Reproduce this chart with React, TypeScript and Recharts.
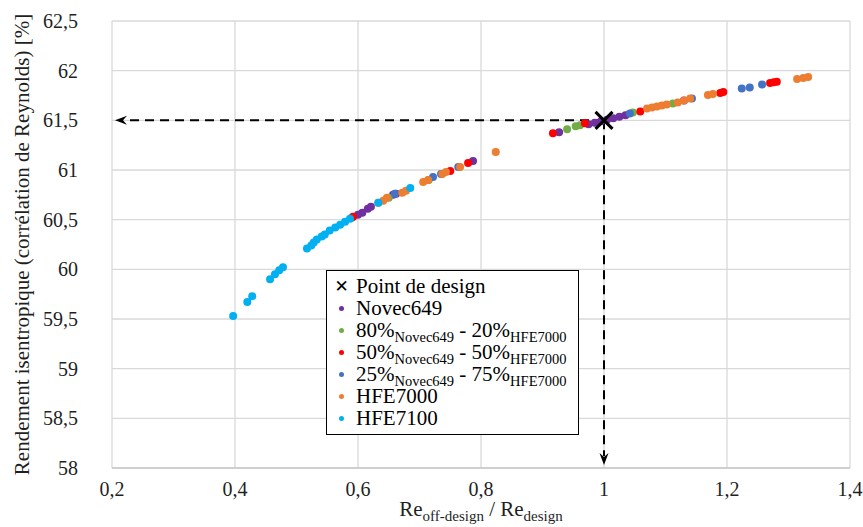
import React from "react";
import {
  CartesianGrid,
  ReferenceLine,
  Scatter,
  ScatterChart,
  XAxis,
  YAxis,
} from "recharts";

const FONT = "'Liberation Serif', Tinos, 'Times New Roman', 'DejaVu Serif', serif";
const TEXT = "#1f1f1f";

const xTicks = [0.2, 0.4, 0.6, 0.8, 1, 1.2, 1.4];
const yTicks = [58, 58.5, 59, 59.5, 60, 60.5, 61, 61.5, 62, 62.5];

const designPoint = [{ x: 1, y: 61.5 }];

const novec649 = [
  { x: 0.6, y: 60.55 },
  { x: 0.607, y: 60.57 },
  { x: 0.616, y: 60.61 },
  { x: 0.621, y: 60.63 },
  { x: 0.657, y: 60.75 },
  { x: 0.662, y: 60.76 },
  { x: 0.787, y: 61.09 },
  { x: 0.927, y: 61.38 },
  { x: 0.975, y: 61.46 },
  { x: 0.985, y: 61.475 },
  { x: 0.995, y: 61.49 },
  { x: 1.005, y: 61.505 },
  { x: 1.015, y: 61.52 },
  { x: 1.025, y: 61.535 },
  { x: 1.035, y: 61.55 },
  { x: 1.13, y: 61.7 },
];

const mix80_20 = [
  { x: 0.59, y: 60.52 },
  { x: 0.65, y: 60.72 },
  { x: 0.715, y: 60.9 },
  { x: 0.94, y: 61.41 },
  { x: 0.954, y: 61.44 },
  { x: 0.961, y: 61.45 },
  { x: 1.047, y: 61.58 },
  { x: 1.112, y: 61.67 },
];

const mix50_50 = [
  { x: 0.592, y: 60.53 },
  { x: 0.75, y: 60.99 },
  { x: 0.779, y: 61.07 },
  { x: 0.917, y: 61.37 },
  { x: 0.969, y: 61.47 },
  { x: 1.059, y: 61.59 },
  { x: 1.189, y: 61.775 },
  { x: 1.194, y: 61.785 },
  { x: 1.27, y: 61.876 },
  { x: 1.276, y: 61.883 },
  { x: 1.281, y: 61.888 },
];

const mix25_75 = [
  { x: 0.66, y: 60.76 },
  { x: 0.722, y: 60.93 },
  { x: 0.735, y: 60.96 },
  { x: 0.763, y: 61.03 },
  { x: 1.042, y: 61.57 },
  { x: 1.143, y: 61.72 },
  { x: 1.224, y: 61.82 },
  { x: 1.237, y: 61.83 },
  { x: 1.257, y: 61.86 },
];

const hfe7000 = [
  { x: 0.633, y: 60.67 },
  { x: 0.641, y: 60.69 },
  { x: 0.647, y: 60.72 },
  { x: 0.672, y: 60.77 },
  { x: 0.678, y: 60.79 },
  { x: 0.706, y: 60.88 },
  { x: 0.714, y: 60.9 },
  { x: 0.737, y: 60.96 },
  { x: 0.743, y: 60.98 },
  { x: 0.766, y: 61.03 },
  { x: 0.824, y: 61.18 },
  { x: 1.07, y: 61.62 },
  { x: 1.078, y: 61.63 },
  { x: 1.086, y: 61.64 },
  { x: 1.094, y: 61.65 },
  { x: 1.102, y: 61.66 },
  { x: 1.12, y: 61.68 },
  { x: 1.13, y: 61.7 },
  { x: 1.14, y: 61.72 },
  { x: 1.169, y: 61.755 },
  { x: 1.177, y: 61.765 },
  { x: 1.314, y: 61.916 },
  { x: 1.324, y: 61.926 },
  { x: 1.332, y: 61.936 },
];

const hfe7100 = [
  { x: 0.397, y: 59.53 },
  { x: 0.42, y: 59.67 },
  { x: 0.428, y: 59.73 },
  { x: 0.457, y: 59.9 },
  { x: 0.465, y: 59.95 },
  { x: 0.472, y: 59.99 },
  { x: 0.478, y: 60.02 },
  { x: 0.517, y: 60.21 },
  { x: 0.524, y: 60.24 },
  { x: 0.528, y: 60.27 },
  { x: 0.533, y: 60.3 },
  { x: 0.541, y: 60.33 },
  { x: 0.546, y: 60.35 },
  { x: 0.554, y: 60.39 },
  { x: 0.563, y: 60.42 },
  { x: 0.571, y: 60.45 },
  { x: 0.579, y: 60.48 },
  { x: 0.587, y: 60.51 },
  { x: 0.633, y: 60.67 },
  { x: 0.685, y: 60.82 },
];

const series = [
  { key: "novec", name: "Novec649", color: "#7030A0", data: novec649 },
  { key: "m80", name: ["80%", "Novec649", " - 20%", "HFE7000"], color: "#70AD47", data: mix80_20 },
  { key: "m50", name: ["50%", "Novec649", " - 50%", "HFE7000"], color: "#FF0000", data: mix50_50 },
  { key: "m25", name: ["25%", "Novec649", " - 75%", "HFE7000"], color: "#4472C4", data: mix25_75 },
  { key: "h7000", name: "HFE7000", color: "#ED7D31", data: hfe7000 },
  { key: "h7100", name: "HFE7100", color: "#00B0F0", data: hfe7100 },
];

const fmt = (v: number) => String(v).replace(".", ",");

const dot = (color: string) => (props: any) =>
  <circle cx={props.cx} cy={props.cy} r={4} fill={color} />;

const cross = (props: any) => {
  const s = 8.5;
  return (
    <g stroke="#000" strokeWidth={3}>
      <line x1={props.cx - s} y1={props.cy - s} x2={props.cx + s} y2={props.cy + s} />
      <line x1={props.cx - s} y1={props.cy + s} x2={props.cx + s} y2={props.cy - s} />
    </g>
  );
};

// dashed guide line with an arrow head at its second point
const arrowLine = (props: any) => {
  const { x1, y1, x2, y2 } = props;
  const len = Math.hypot(x2 - x1, y2 - y1) || 1;
  const ux = (x2 - x1) / len;
  const uy = (y2 - y1) / len;
  const tipX = x2 - ux * 3;
  const tipY = y2 - uy * 3;
  const headL = 12;
  const headW = 4.5;
  const bx = tipX - ux * headL;
  const by = tipY - uy * headL;
  const nx = -uy;
  const ny = ux;
  return (
    <g>
      <line
        x1={x1}
        y1={y1}
        x2={bx + ux * 3}
        y2={by + uy * 3}
        stroke="#000"
        strokeWidth={2}
        strokeDasharray="9 6"
      />
      <path
        d={`M${tipX},${tipY} L${bx + nx * headW},${by + ny * headW} L${bx + ux * 4},${by + uy * 4} L${bx - nx * headW},${by - ny * headW} Z`}
        fill="#000"
      />
    </g>
  );
};

const XTitle = (props: any) => {
  const vb = props.viewBox;
  return (
    <text
      x={vb.x + vb.width / 2}
      y={vb.y + 48}
      textAnchor="middle"
      style={{ fontFamily: FONT }}
      fontSize={21}
      fill={TEXT}
    >
      Re
      <tspan dy={5} fontSize={15}>off-design</tspan>
      <tspan dy={-5}> / Re</tspan>
      <tspan dy={5} fontSize={15}>design</tspan>
    </text>
  );
};

const YTitle = (props: any) => {
  const vb = props.viewBox;
  const cx = 22;
  const cy = vb.y + vb.height / 2;
  return (
    <text
      x={cx}
      y={cy}
      transform={`rotate(-90 ${cx} ${cy})`}
      textAnchor="middle"
      dominantBaseline="central"
      style={{ fontFamily: FONT }}
      fontSize={21}
      fill={TEXT}
    >
      Rendement isentropique (corrélation de Reynolds) [%]
    </text>
  );
};

const subStyle = { fontSize: 14.5, verticalAlign: "-5px", lineHeight: 0 };

const LegendLabel = ({ name }: { name: any }) => {
  if (typeof name === "string") return <span>{name}</span>;
  return (
    <span>
      {name[0]}
      <sub style={subStyle}>{name[1]}</sub>
      {name[2]}
      <sub style={subStyle}>{name[3]}</sub>
    </span>
  );
};

export default function App() {
  return (
    <div style={{ position: "absolute", left: 0, top: 0, width: 863, height: 527, background: "#fff", fontFamily: FONT }}>
      <ScatterChart width={863} height={527} margin={{ top: 21, right: 13, bottom: 0, left: 0 }} style={{ fontFamily: FONT }}>
        <CartesianGrid stroke="#d9d9d9" strokeWidth={1.3} />
        <XAxis
          type="number"
          dataKey="x"
          domain={[0.2, 1.4]}
          ticks={xTicks}
          tickFormatter={fmt}
          height={59}
          tickLine={false}
          tickMargin={8}
          axisLine={{ stroke: "#c8c8c8", strokeWidth: 1.5 }}
          tick={{ fill: TEXT, fontSize: 20, style: { fontFamily: FONT } }}
          label={<XTitle />}
        />
        <YAxis
          type="number"
          dataKey="y"
          domain={[58, 62.5]}
          ticks={yTicks}
          tickFormatter={fmt}
          width={112}
          tickLine={false}
          tickMargin={28}
          axisLine={false}
          tick={{ fill: TEXT, fontSize: 20, style: { fontFamily: FONT } }}
          label={<YTitle />}
        />
        <ReferenceLine
          segment={[
            { x: 1, y: 61.5 },
            { x: 0.2, y: 61.5 },
          ]}
          shape={arrowLine}
        />
        <ReferenceLine
          segment={[
            { x: 1, y: 61.5 },
            { x: 1, y: 58 },
          ]}
          shape={arrowLine}
        />
        {series.map((s) => (
          <Scatter
            key={s.key}
            data={s.data}
            fill={s.color}
            shape={dot(s.color)}
            isAnimationActive={false}
          />
        ))}
        <Scatter data={designPoint} shape={cross} isAnimationActive={false} />
      </ScatterChart>
      <div
        style={{
          position: "absolute",
          left: 326,
          top: 270,
          width: 253,
          height: 165,
          border: "1px solid #000",
          background: "#fff",
          boxSizing: "border-box",
          fontFamily: FONT,
          fontSize: 21,
          color: "#000",
          paddingTop: 4,
        }}
      >
        <div style={{ display: "flex", alignItems: "center", height: 22 }}>
          <span style={{ width: 29, textAlign: "center", fontSize: 17, fontWeight: "bold", fontFamily: "DejaVu Sans" }}>✕</span>
          <span>Point de design</span>
        </div>
        {series.map((s) => (
          <div key={s.key} style={{ display: "flex", alignItems: "center", height: 22 }}>
            <span style={{ width: 29, display: "flex", justifyContent: "center" }}>
              <span style={{ width: 5, height: 5, borderRadius: "50%", background: s.color, display: "inline-block" }} />
            </span>
            <LegendLabel name={s.name} />
          </div>
        ))}
      </div>
    </div>
  );
}
